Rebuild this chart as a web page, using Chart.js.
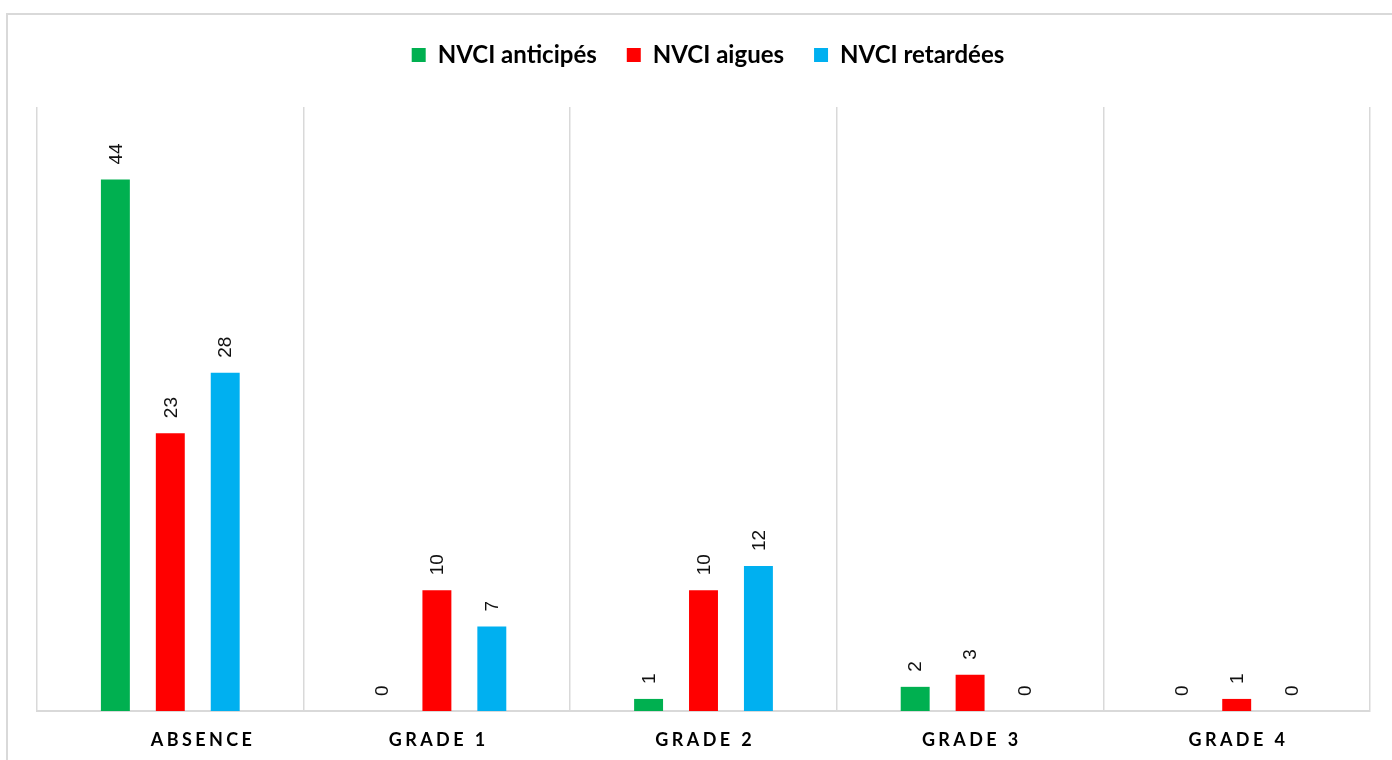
<!DOCTYPE html>
<html>
<head>
<meta charset="utf-8">
<script src="https://cdn.jsdelivr.net/npm/chart.js@4.4.1/dist/chart.umd.min.js"></script>
<style>
  html, body { margin: 0; padding: 0; background: #ffffff; }
  #wrap { width: 1392px; height: 760px; position: relative; }
</style>
</head>
<body>
<div id="wrap"><canvas id="chart" width="1392" height="760"></canvas></div>
<script>
// Categories (the first one carries leading spaces, as in the source sheet)
const categories = ['        ABSENCE', 'GRADE 1', 'GRADE 2', 'GRADE 3', 'GRADE 4'];
const seriesNames = ['NVCI anticipés', 'NVCI aigues', 'NVCI retardées'];
const anticipes = [44, 0, 1, 2, 0];
const aigues = [23, 10, 10, 3, 1];
const retardees = [28, 7, 12, 0, 0];
const seriesColors = ['#00b050', '#ff0000', '#00b0f0'];

const GRID = '#d9d9d9';
const TEXT = '#000000';
const LETTER_SPACING = 3.4;

// White page with the light grey chart frame
const framePlugin = {
  id: 'frame',
  beforeDraw(chart) {
    const ctx = chart.ctx;
    ctx.save();
    ctx.fillStyle = '#ffffff';
    ctx.fillRect(0, 0, chart.width, chart.height);
    ctx.strokeStyle = GRID;
    ctx.lineWidth = 2;
    ctx.strokeRect(7, 14, chart.width + 20, chart.height + 20);
    ctx.restore();
  }
};

// Rotated value labels above each bar
const valueLabelPlugin = {
  id: 'valueLabels',
  afterDatasetsDraw(chart) {
    const ctx = chart.ctx;
    ctx.save();
    ctx.font = '19px "Liberation Sans", Arial, sans-serif';
    ctx.fillStyle = '#111111';
    ctx.textAlign = 'left';
    ctx.textBaseline = 'middle';
    chart.data.datasets.forEach((ds, di) => {
      chart.getDatasetMeta(di).data.forEach((bar, i) => {
        ctx.save();
        ctx.translate(bar.x + 1, bar.y - 15);
        ctx.rotate(-Math.PI / 2);
        ctx.fillText(String(ds.data[i]), 0, 0);
        ctx.restore();
      });
    });
    ctx.restore();
  }
};

// Letter-spaced category labels under the axis
const categoryLabelPlugin = {
  id: 'categoryLabels',
  afterDraw(chart) {
    const ctx = chart.ctx;
    const xs = chart.scales.x;
    ctx.save();
    ctx.font = 'bold 18px Lato, "Open Sans", sans-serif';
    ctx.letterSpacing = LETTER_SPACING + 'px';
    ctx.fillStyle = TEXT;
    ctx.textAlign = 'center';
    ctx.textBaseline = 'middle';
    chart.data.labels.forEach((label, i) => {
      ctx.fillText(label, xs.getPixelForValue(i) + LETTER_SPACING / 2, xs.top + 29);
    });
    ctx.restore();
  }
};

const datasets = [anticipes, aigues, retardees].map((values, k) => ({
  label: seriesNames[k],
  data: values,
  backgroundColor: seriesColors[k],
  borderWidth: 0,
  categoryPercentage: 0.618,
  barPercentage: 0.527,
  xAxisID: 'x',
  yAxisID: 'y'
}));

new Chart(document.getElementById('chart'), {
  type: 'bar',
  data: { labels: categories, datasets },
  options: {
    responsive: false,
    animation: false,
    devicePixelRatio: 1,
    layout: { padding: { left: 24, right: 0, top: 13, bottom: 0 } },
    plugins: {
      legend: {
        position: 'top',
        labels: {
          boxWidth: 14,
          boxHeight: 14,
          padding: 30,
          color: TEXT,
          font: { family: 'Lato', size: 24, weight: 'bold' }
        }
      },
      tooltip: { enabled: false }
    },
    scales: {
      x: {
        type: 'category',
        offset: true,
        grid: { display: true, color: GRID, lineWidth: 1.5, drawTicks: false, offset: true },
        border: { display: true, color: GRID, width: 2 },
        ticks: { display: false },
        afterFit(s) { s.height = 49; }
      },
      xTop: {
        axis: 'x',
        type: 'category',
        position: 'top',
        grid: { display: false },
        border: { display: false },
        ticks: { display: false },
        afterFit(s) { s.height = 30; }
      },
      y: {
        type: 'linear',
        min: 0,
        max: 50,
        grid: { display: false },
        border: { display: false },
        ticks: { display: false },
        afterFit(s) { s.width = 13; }
      },
      yRight: {
        axis: 'y',
        type: 'linear',
        position: 'right',
        grid: { display: false },
        border: { display: false },
        ticks: { display: false },
        afterFit(s) { s.width = 22; }
      }
    }
  },
  plugins: [framePlugin, valueLabelPlugin, categoryLabelPlugin]
});
</script>
</body>
</html>
